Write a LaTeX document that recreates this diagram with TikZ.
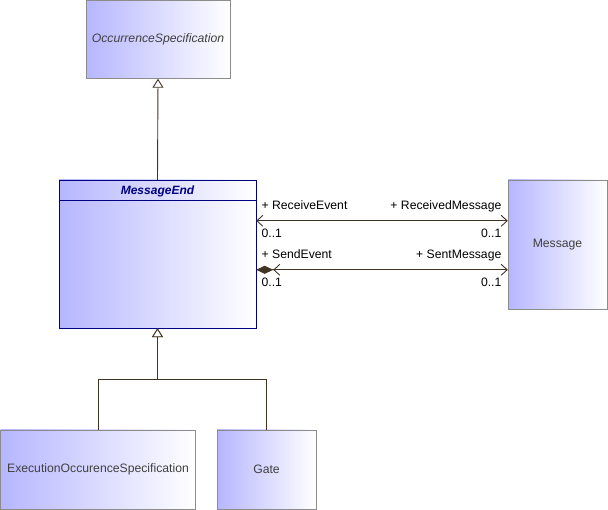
\documentclass[tikz,border=0pt]{standalone}
\usepackage{fontspec}
\setmainfont{Liberation Sans}
\usetikzlibrary{arrows.meta, positioning}
\definecolor{claseazul}{RGB}{182,182,255}
\definecolor{bordegris}{RGB}{140,140,140}
\definecolor{lineamarron}{RGB}{64,52,36}
\definecolor{azulosc}{RGB}{0,0,128}
\definecolor{textogris}{RGB}{64,64,64}

\begin{document}
\begin{tikzpicture}[x=1pt,y=-1pt,
  clase/.style={rectangle,draw=bordegris,left color=claseazul,right color=white,
    inner sep=0pt,font=\fontsize{12.2}{14}\selectfont,text=textogris},
  gen/.style={draw=lineamarron,line width=0.9pt,-{Triangle[open,length=9pt,width=11pt,fill=white]}},
  assoc/.style={draw=lineamarron,line width=0.9pt,{Straight Barb[length=6pt,width=11pt]}-{Straight Barb[length=6pt,width=11pt]}},
  comp/.style={draw=lineamarron,line width=0.9pt,{Diamond[length=17pt,width=8pt,fill=lineamarron]Straight Barb[length=6pt,width=11pt]}-{Straight Barb[length=6pt,width=11pt]}},
  etiq/.style={font=\fontsize{12.2}{14}\selectfont,text=black,inner sep=0pt}]
  \useasboundingbox (0,0) rectangle (608,510);

  % Definición de los nodos
  \node[clase,minimum width=144pt,minimum height=78pt] (occ) at (158,39.5) {\itshape OccurrenceSpecification};
  \node[clase,draw=azulosc,minimum width=197pt,minimum height=148pt] (msgend) at (157.5,254) {};
  \node[font=\fontsize{12}{14}\selectfont\bfseries\itshape,text=azulosc,below=5.5pt of msgend.north,inner sep=0pt] (msgendtit) {MessageEnd};
  \draw[azulosc] ([yshift=-20pt]msgend.north west) -- ([yshift=-20pt]msgend.north east);
  \node[clase,minimum width=99pt,minimum height=129pt] (message) at (557.5,244.5) {Message};
  \node[clase,minimum width=195pt,minimum height=79pt] (exec) at (98,469.5) {ExecutionOccurenceSpecification};
  \node[clase,minimum width=99pt,minimum height=79pt] (gate) at (266.5,469.5) {Gate};

  % Generalizaciones
  \path[gen] (msgend.north) -- (occ.south);
  \path[gen] (exec.north) -- ++(0,-50) -| (msgend.south);
  \path[gen] (gate.north) -- ++(0,-50) -| (msgend.south);

  % Asociaciones con Message
  \path[assoc] ([yshift=-41pt]msgend.north east) -- ([yshift=-41pt]message.north west)
    node[etiq,pos=0,anchor=base west,xshift=5pt,yshift=11.5pt] {+ ReceiveEvent}
    node[etiq,pos=1,anchor=base east,xshift=-6pt,yshift=11.5pt] {+ ReceivedMessage}
    node[etiq,pos=0,anchor=north west,xshift=5pt,yshift=-7.5pt] {0..1}
    node[etiq,pos=1,anchor=north east,xshift=-6pt,yshift=-7.5pt] {0..1};
  \path[comp] ([yshift=-90pt]msgend.north east) -- ([yshift=-90pt]message.north west)
    node[etiq,pos=0,anchor=base west,xshift=5pt,yshift=11.5pt] {+ SendEvent}
    node[etiq,pos=1,anchor=base east,xshift=-6pt,yshift=11.5pt] {+ SentMessage}
    node[etiq,pos=0,anchor=north west,xshift=5pt,yshift=-7.5pt] {0..1}
    node[etiq,pos=1,anchor=north east,xshift=-6pt,yshift=-7.5pt] {0..1};
\end{tikzpicture}
\end{document}
